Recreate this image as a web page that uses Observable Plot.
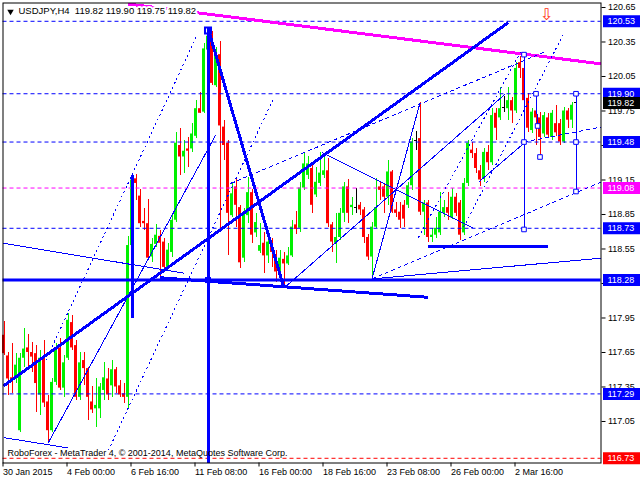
<!DOCTYPE html>
<html><head><meta charset="utf-8">
<script src="https://cdn.jsdelivr.net/npm/d3@7"></script>
<script src="https://cdn.jsdelivr.net/npm/@observablehq/plot@0.6"></script>
<style>
html,body{margin:0;padding:0;background:#fff;}
#chart svg{display:block}
</style>
</head><body><div id="chart"></div>
<script>
// ---- data: H4 candles (bar index 0..143) ----
const opens = [117.80,117.62,117.43,117.42,116.97,117.60,117.69,117.65,117.64,117.28,
117.61,117.22,116.97,117.39,117.69,117.34,117.60,117.91,117.71,117.26,
117.58,117.51,117.22,117.16,117.16,117.32,117.42,117.36,117.50,117.36,
117.29,117.26,118.58,119.16,119.01,118.79,118.77,118.48,118.59,118.66,
118.61,118.39,118.52,118.80,119.45,119.35,119.42,119.42,119.53,119.77,
119.74,120.28,120.43,119.97,120.24,119.61,119.47,118.84,119.09,118.91,
118.47,118.84,119.04,118.69,118.53,118.60,118.49,118.61,118.50,118.35,
118.46,118.42,118.49,118.76,118.73,119.08,119.19,119.25,119.02,119.12,
119.19,119.23,118.76,118.60,118.65,118.86,119.09,118.91,118.91,118.93,
118.89,118.65,118.48,118.74,119.09,119.09,119.00,119.22,118.89,118.87,
118.93,118.93,119.10,119.49,119.51,118.87,118.95,118.65,118.67,118.69,
118.86,118.91,118.82,119.00,118.95,118.69,119.12,119.41,119.38,119.23,
119.16,119.39,119.30,119.73,119.69,119.78,119.77,119.84,119.75,120.17,
120.12,119.86,119.58,119.75,119.69,119.55,119.69,119.52,119.64,119.64,
119.48,119.75,119.67,119.82];
const highs = [117.92,117.65,117.73,117.64,117.64,117.86,117.81,117.74,117.71,117.67,
117.75,117.28,117.42,117.73,117.77,117.62,117.99,117.97,117.75,117.65,
117.65,117.52,117.35,117.42,117.38,117.56,117.51,117.58,117.52,117.41,
117.38,118.66,119.19,119.20,119.07,118.90,118.98,118.64,118.76,118.71,
118.64,118.60,118.84,119.56,119.60,119.49,119.52,119.64,119.84,119.91,
120.34,120.47,120.44,120.30,120.35,119.67,119.49,119.12,119.15,118.93,
118.90,119.17,119.07,118.86,118.77,118.69,118.65,118.64,118.54,118.54,
118.52,118.56,118.80,118.88,119.13,119.39,119.35,119.30,119.26,119.39,
119.35,119.34,118.78,118.86,118.90,119.13,119.15,119.00,119.08,118.95,
118.91,118.68,118.78,119.16,119.13,119.12,119.32,119.23,118.95,118.95,
118.97,119.13,119.51,119.57,119.82,118.97,118.97,118.73,118.82,119.04,
118.97,119.04,119.08,119.03,118.97,119.16,119.49,119.48,119.42,119.28,
119.42,119.45,119.77,119.77,119.95,119.88,119.95,119.87,120.17,120.22,
120.24,119.90,119.77,119.88,119.74,119.74,119.73,119.75,119.80,119.68,
119.78,119.77,119.82,119.90];
const lows = [117.62,117.28,117.29,117.38,116.95,117.52,117.52,117.48,117.13,117.10,
117.17,116.86,116.95,117.36,117.32,117.26,117.58,117.67,117.23,117.23,
117.36,117.06,117.12,117.00,117.08,117.23,117.23,117.26,117.29,117.26,
117.21,117.16,118.56,118.97,118.74,118.71,118.45,118.43,118.56,118.30,
118.36,118.38,118.48,118.78,119.19,119.21,119.26,119.39,119.51,119.73,
119.73,120.13,119.97,119.95,118.71,119.32,118.49,118.82,118.74,118.38,
118.43,118.77,118.60,118.65,118.51,118.34,118.42,118.39,118.26,118.34,
118.21,118.41,118.48,118.68,118.69,119.06,119.15,118.86,119.00,119.09,
119.16,118.74,118.52,118.42,118.62,118.78,118.77,118.84,118.86,118.84,
118.60,118.45,118.29,118.73,118.97,118.86,118.93,118.86,118.82,118.73,
118.74,118.90,119.06,119.41,118.84,118.67,118.61,118.61,118.64,118.67,
118.82,118.80,118.81,118.83,118.62,118.67,119.09,119.34,119.21,119.09,
119.13,119.23,119.28,119.49,119.67,119.74,119.67,119.64,119.73,120.03,
119.81,119.56,119.55,119.45,119.35,119.52,119.51,119.49,119.53,119.45,
119.47,119.60,119.60,119.75];
const closes = [117.64,117.42,117.40,117.54,117.60,117.68,117.65,117.61,117.38,117.60,
117.21,116.97,117.39,117.69,117.34,117.56,117.93,117.69,117.26,117.56,
117.51,117.26,117.15,117.19,117.35,117.43,117.28,117.50,117.35,117.28,
117.26,118.58,119.15,119.12,118.77,118.77,118.47,118.59,118.67,118.60,
118.39,118.54,118.80,119.47,119.35,119.40,119.40,119.55,119.77,119.73,
120.29,120.40,119.99,120.25,119.62,119.45,118.86,119.03,118.93,118.43,
118.86,119.04,118.67,118.78,118.58,118.49,118.61,118.52,118.35,118.47,
118.42,118.49,118.74,118.72,119.08,119.29,119.29,118.93,119.13,119.21,
119.23,118.77,118.61,118.65,118.86,119.09,118.86,118.93,118.91,118.89,
118.65,118.48,118.74,118.91,119.06,119.00,119.22,118.87,118.86,118.80,
118.81,119.10,119.48,119.49,118.87,118.95,118.65,118.67,118.73,118.87,
118.91,118.86,119.00,118.86,118.67,119.12,119.47,119.38,119.25,119.15,
119.39,119.30,119.71,119.60,119.77,119.78,119.84,119.75,120.12,120.12,
119.84,119.60,119.74,119.69,119.52,119.71,119.54,119.73,119.56,119.48,
119.75,119.67,119.80,119.82];

// ---- axes ----
const tickBars = [0,16,32,48,64,80,96,112,128];
const tickLabels = ["30 Jan 2015","4 Feb 00:00","6 Feb 16:00","11 Feb 08:00","16 Feb 00:00","18 Feb 16:00","23 Feb 08:00","26 Feb 00:00","2 Mar 16:00"];
const priceTicks = [117.05,117.35,117.65,117.95,118.25,118.55,118.85,119.15,119.45,119.75,120.05,120.35,120.65];

// ---- horizontal levels ----
const dashLevels = [120.53,119.90,119.48,119.08,118.73,117.29,116.73];
const dashLevelColors = ["#0000ff","#0000ff","#0000ff","#ff00ff","#0000ff","#0000ff","#ff0000"];
const supportLevel = [118.28];

// ---- price boxes on the right ----
const boxPrices = [120.53,119.90,119.82,119.48,119.08,118.73,118.28,117.29,116.73];
const boxColors = ["#0000ff","#0000ff","#000000","#0000ff","#ff00ff","#0000ff","#0000ff","#0000ff","#ff0000"];

// ---- drawn objects: [bar1, price1, bar2, price2] ----
const magentaLines = [[31.1,120.68,149.2,120.16]];
const thickLines = [[-0.125,117.36,126.1,120.52],[51,120.47,70,118.21],[39,118.30,106,118.13],[32.2,119.19,32.2,117.95],[105.9,118.57,136.1,118.57],[51,120.45,51,116.69]];
const thinLines = [[-0.125,118.60,44.9,118.34],[-0.125,116.91,16.1,116.82],[11,116.86,52.9,119.54],[70,118.21,125.4,119.90],[92,118.29,149.2,118.47],[92,118.29,104,119.82],[79.5,119.39,117.4,118.73],[118.6,119.13,130,119.47],[130,120.24,130,118.72],[143,119.90,143,119.05],[133,119.90,133.4,119.62]];
const dashedLines = [[56.6,119.12,134.9,120.26],[92,118.29,149.2,119.13],[130,119.48,149.2,119.61]];
const dottedLines = [[10.4,117.58,48.4,120.42],[26.1,116.80,67.4,119.86],[103.6,118.65,129.6,120.29],[114.9,118.74,139.9,120.42]];
const openSquares = [[130,120.24],[133,119.90],[130,119.48],[133.4,119.62],[134,119.35],[143,119.90],[143,119.48],[143,119.05],[130,118.72]];
const peakSquare = [[51,120.45]];
const crossSquare = [[51,118.28]];
const arrowMark = [[135.6,120.59]];

const titleSymbol = "USDJPY,H4";
const titleOHLC = [119.82,119.90,119.75,119.82];
const copyright = "RoboForex - MetaTrader 4, © 2001-2014, MetaQuotes Software Corp.";

const GREEN = "#00f000", RED = "#ff0000", BLUE = "#0000ff";
const bars = opens.map((o,i)=>({i,o,h:highs[i],l:lows[i],c:closes[i]}));
const colorOf = d => d.c > d.o ? GREEN : d.c < d.o ? RED : "#000000";
const seg = (arr) => arr.map(a=>({x1:a[0],y1:a[1],x2:a[2],y2:a[3]}));
const linkOpts = {x1:"x1",y1:"y1",x2:"x2",y2:"y2",shapeRendering:"crispEdges"};

const chart = Plot.plot({
  width: 640, height: 480,
  marginLeft: 2.5, marginRight: 39.5, marginTop: 2.5, marginBottom: 17.5,
  x: {domain: [-0.25, 149.25]},
  y: {domain: [116.6891, 120.6891]},
  color: {type: "identity"},
  style: {background: "white", fontFamily: "'Liberation Sans', Arial, sans-serif", fontSize: "9px", color: "black"},
  marks: [
    // candles
    Plot.ruleX(bars, {x:"i", y1:"l", y2:"h", stroke: colorOf, strokeWidth: 1, shapeRendering:"crispEdges"}),
    Plot.rect(bars.filter(d=>d.o!==d.c), {x1: d=>d.i-0.375, x2: d=>d.i+0.375, y1:"o", y2:"c", fill: colorOf}),
    Plot.ruleY(bars.filter(d=>d.o===d.c), {y:"o", x1: d=>d.i-0.375, x2: d=>d.i+0.375, stroke:"#000000", shapeRendering:"crispEdges"}),
    // levels
    Plot.ruleY(dashLevels, {y: d=>d, stroke: (d,i)=>dashLevelColors[i], strokeDasharray: "4,3"}),
    Plot.ruleY(supportLevel, {y: d=>d, stroke: BLUE, strokeWidth: 3}),
    // drawn objects
    Plot.link(seg(magentaLines), {...linkOpts, stroke: "#ff00ff", strokeWidth: 3}),
    Plot.link(seg(thickLines), {...linkOpts, stroke: BLUE, strokeWidth: 3}),
    Plot.link(seg(thinLines), {...linkOpts, stroke: BLUE, strokeWidth: 1}),
    Plot.link(seg(dashedLines), {...linkOpts, stroke: BLUE, strokeWidth: 1, strokeDasharray: "4,3"}),
    Plot.link(seg(dottedLines), {...linkOpts, stroke: BLUE, strokeWidth: 1, strokeDasharray: "2,3"}),
    Plot.dot(openSquares, {x: d=>d[0], y: d=>d[1], symbol: "square", r: 2.6, stroke: BLUE, fill: "white", strokeWidth: 1}),
    Plot.dot(peakSquare, {x: d=>d[0], y: d=>d[1], symbol: "square", r: 3.4, stroke: BLUE, fill: "none", strokeWidth: 2}),
    Plot.dot(crossSquare, {x: d=>d[0], y: d=>d[1], symbol: "square", r: 3.4, fill: BLUE}),
    Plot.text(arrowMark, {x: d=>d[0], y: d=>d[1], text: ()=>"⇩", fill: "#ff3010", fontSize: 16, fontFamily: "DejaVu Sans"}),
    // axes
    Plot.axisX(tickBars, {anchor: "bottom", tickSize: 4, tickPadding: 2, tickFormat: d=>tickLabels[tickBars.indexOf(d)], textAnchor: "start", dx: -1, label: null}),
    Plot.axisY(priceTicks, {anchor: "right", tickSize: 4, tickPadding: 3, tickFormat: d=>d.toFixed(2), label: null}),
    // price boxes
    Plot.ruleY(boxPrices, {y: d=>d, x1: 149.875, x2: 159.5, stroke: (d,i)=>boxColors[i], strokeWidth: 12}),
    Plot.text(boxPrices, {y: d=>d, text: d=>d.toFixed(2), frameAnchor: "right", dx: 6.5, textAnchor: "start", fill: "white"}),
    // texts
    Plot.dot([0], {frameAnchor: "top-left", dx: 7.5, dy: 8.5, symbol: "triangle", rotate: 180, r: 2.4, fill: "black"}),
    Plot.text([titleSymbol + "\u00a0\u00a0" + titleOHLC.map(v=>v.toFixed(2)).join(" ")], {frameAnchor: "top-left", dx: 15.5, dy: 4, text: d=>d, textAnchor: "start", lineAnchor: "top", fill: "black", stroke: "white", strokeWidth: 4, fontSize: 9.5}),
    Plot.text([copyright], {frameAnchor: "bottom-left", dx: 4.5, dy: -7.5, text: d=>d, textAnchor: "start", fill: "black"}),
    Plot.frame({stroke: "black"})
  ]
});
document.getElementById("chart").appendChild(chart);
</script>
</body></html>
